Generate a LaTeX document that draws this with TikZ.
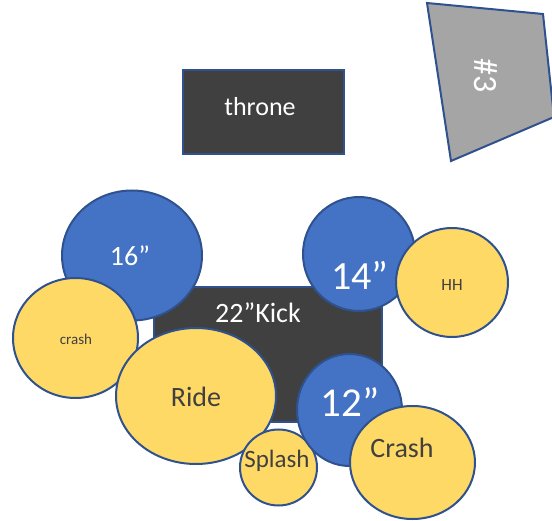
\documentclass[tikz,border=0pt]{standalone}
\usepackage{fontspec}
\setmainfont{Carlito}
\usetikzlibrary{shapes.geometric}
\definecolor{edgeblue}{HTML}{2F528F}
\definecolor{drumblue}{HTML}{4472C4}
\definecolor{cymyellow}{HTML}{FFD966}
\definecolor{darkgray}{HTML}{404040}
\definecolor{slate}{HTML}{A5A5A5}
\definecolor{ink}{HTML}{404040}
\tikzset{
  shp/.style={draw=edgeblue, line width=2pt},
  boxn/.style={shp, fill=darkgray, rectangle, inner sep=0pt},
  drumn/.style={shp, fill=drumblue, ellipse, inner sep=0pt},
  cymn/.style={shp, fill=cymyellow, ellipse, inner sep=0pt},
  fs/.style={font=\fontsize{#1}{#1}\selectfont},
  wt/.style={text=white, fs=#1},
  dt/.style={text=ink, fs=#1}
}
\begin{document}
\begin{tikzpicture}[x=1pt,y=-1pt]
\useasboundingbox (0,0) rectangle (552,521);
\clip (0,0) rectangle (552,521);
% throne
\node[boxn, minimum width=161pt, minimum height=84pt,
  label={[wt=26, shift={(-3.5,-5)}]center:throne}] (throne) at (263.5,112) {};
% #3
\draw[shp, fill=slate] (427,3) -- (543,14) -- (554,117) -- (451,161) -- cycle;
\node[wt=34, rotate=-90] (three) at (486,76) {\#3};
% kick
\node[boxn, minimum width=228pt, minimum height=135pt,
  label={[wt=28, shift={(-10,-42)}]center:22”Kick}] (kick) at (268,354.5) {};
% drums and cymbals
\node[drumn, minimum width=140pt, minimum height=130pt,
  label={[wt=28, shift={(-2,0.5)}]center:16”}] (tom16) at (132,255.5) {};
\node[cymn, minimum width=125pt, minimum height=120pt,
  label={[dt=15, shift={(0.5,1)}]center:crash}] (crashl) at (75.5,338) {};
\node[cymn, minimum width=160pt, minimum height=136pt,
  label={[dt=28, shift={(0,1)}]center:Ride}] (ride) at (196,396) {};
\node[cymn, minimum width=77pt, minimum height=76pt,
  label={[dt=25, shift={(-1.5,-6.5)}]center:Splash}] (splash) at (278.5,467.5) {};
\node[drumn, minimum width=112pt, minimum height=114pt,
  label={[wt=40, shift={(1,21)}]center:14”}] (tom14) at (359,254) {};
\node[cymn, minimum width=112pt, minimum height=109pt,
  label={[dt=17, shift={(0,2.5)}]center:HH}] (hh) at (452,282.5) {};
\node[drumn, minimum width=105pt, minimum height=112pt,
  label={[wt=41, shift={(0.5,-8)}]center:12”}] (tom12) at (349.5,410) {};
\node[cymn, minimum width=125pt, minimum height=113pt,
  label={[dt=28, shift={(-10.5,-14.5)}]center:Crash}] (crashr) at (412.5,462.5) {};
\end{tikzpicture}
\end{document}
